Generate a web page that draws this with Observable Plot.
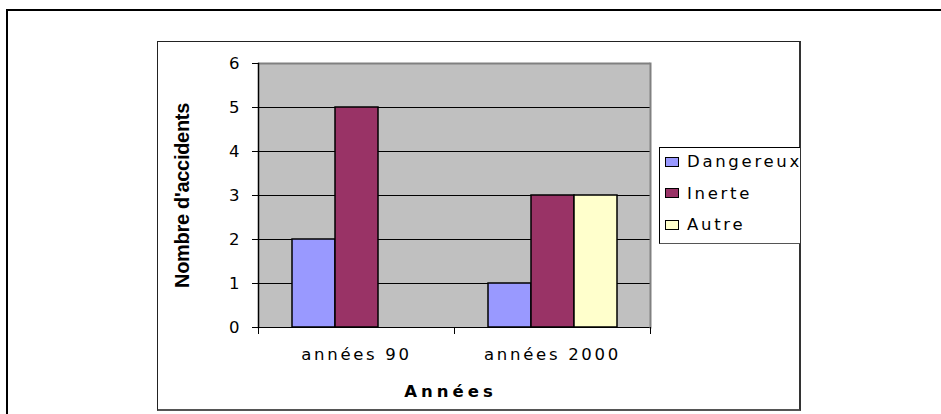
<!DOCTYPE html>
<html><head><meta charset="utf-8">
<script src="https://cdn.jsdelivr.net/npm/d3@7"></script>
<script src="https://cdn.jsdelivr.net/npm/@observablehq/plot@0.6"></script>
<style>
html,body{margin:0;padding:0;background:#fff;}
#wrap{position:relative;width:941px;height:414px;overflow:hidden;background:#fff;}
#outer{position:absolute;left:6px;top:9px;width:1000px;height:1000px;border-top:2px solid #000;border-left:2px solid #000;}
#inner{position:absolute;left:157px;top:41px;width:641px;height:367px;border-top:1px solid #222;border-left:1px solid #222;border-right:2px solid #333;border-bottom:2px solid #555;}
#chart{position:absolute;left:0;top:0;}
#legend{position:absolute;left:659px;top:147px;width:140px;height:95px;border-top:1px solid #000;border-left:1px solid #000;border-bottom:1px solid #555;background:#fff;font-family:"DejaVu Sans",sans-serif;font-size:16.5px;letter-spacing:2.7px;color:#000;}
#legend .rows{position:relative;top:-2px;}
#legend .row{display:flex;align-items:center;height:31.5px;padding-left:5px;white-space:nowrap;}
#legend .sw{box-sizing:border-box;width:14px;height:10px;border:1.5px solid #000;margin-right:8px;flex:none;}
#chart text{letter-spacing:2.7px;}
#chart g[aria-label="y-axis tick label"] text{letter-spacing:0;}
#chart g[aria-description="xtitle"] text{letter-spacing:4px;}
#chart g[aria-description="ytitle"] text{letter-spacing:-0.3px;}
</style>
</head>
<body>
<div id="wrap">
  <div id="outer"></div>
  <div id="inner"></div>
  <div id="chart"></div>
  <div id="legend"><div class="rows"></div></div>
</div>
<script>
const periods = ["années 90", "années 2000"];
const seriesNames = ["Dangereux", "Inerte", "Autre"];
const dangereux = [2, 1];
const inerte = [5, 3];
const autre = [null, 3];
const seriesColors = ["#9999FF", "#993366", "#FFFFCC"];
const yTicks = [0, 1, 2, 3, 4, 5, 6];
const yTitle = "Nombre d'accidents";
const xTitle = "Années";

const valuesBySeries = [dangereux, inerte, autre];
const rows = [];
periods.forEach((p, i) => seriesNames.forEach((s, j) => {
  const v = valuesBySeries[j][i];
  if (v != null) rows.push({period: p, series: s, value: v});
}));

const W = 941, H = 414, mL = 258, mR = 291, mT = 63, mB = 87;
const plotH = H - mT - mB;

const chart = Plot.plot({
  width: W, height: H,
  marginLeft: mL, marginRight: mR, marginTop: mT, marginBottom: mB,
  style: {fontFamily: "'DejaVu Sans', sans-serif", fontSize: "16.5px", color: "#000", background: "transparent", overflow: "visible"},
  fx: {domain: periods, padding: 0, round: true, axis: "bottom", tickSize: 0, tickPadding: 21, label: null},
  x: {domain: seriesNames, paddingInner: 0, paddingOuter: 0.75, axis: null},
  y: {domain: [0, 6], ticks: yTicks, tickFormat: d3.format("d"), tickSize: 6, tickPadding: 13, label: null},
  color: {domain: seriesNames, range: seriesColors},
  marks: [
    Plot.frame({fill: "#c0c0c0", stroke: null, facet: "super"}),
    Plot.gridY(yTicks.slice(1, -1), {stroke: "#000", strokeOpacity: 1, strokeWidth: 1}),
    Plot.ruleY([6], {stroke: "#808080", strokeWidth: 2}),
    Plot.barY(rows, {fx: "period", x: "series", y: "value", fill: "series", stroke: "#000", strokeWidth: 1.5}),
    Plot.ruleY([0], {stroke: "#000", strokeWidth: 1}),
    Plot.frame({anchor: "left", stroke: "#000", insetTop: plotH, insetBottom: -6}),
    Plot.frame({anchor: "left", facet: "super", stroke: "#000", strokeWidth: 1.5}),
    Plot.frame({anchor: "right", facet: "super", stroke: "#808080", strokeWidth: 2}),
    Plot.frame({anchor: "right", facet: "super", stroke: "#000", insetTop: plotH, insetBottom: -6}),
    Plot.text([xTitle], {text: d => d, frameAnchor: "bottom", lineAnchor: "top", dy: 58, dx: -4, facet: "super", fontWeight: "bold", ariaDescription: "xtitle"}),
    Plot.text([yTitle], {text: d => d, frameAnchor: "left", textAnchor: "middle", rotate: -90, dx: -76, facet: "super", fontWeight: "bold", fontSize: 20, fontFamily: "'Liberation Sans', Arial, sans-serif", ariaDescription: "ytitle"})
  ]
});
document.getElementById("chart").appendChild(chart);

const legendRows = document.querySelector("#legend .rows");
seriesNames.forEach((s, i) => {
  const row = document.createElement("div");
  row.className = "row";
  const sw = document.createElement("span");
  sw.className = "sw";
  sw.style.background = chart.scale("color").apply(s);
  const label = document.createElement("span");
  label.textContent = s;
  row.appendChild(sw);
  row.appendChild(label);
  legendRows.appendChild(row);
});
</script>
</body></html>
